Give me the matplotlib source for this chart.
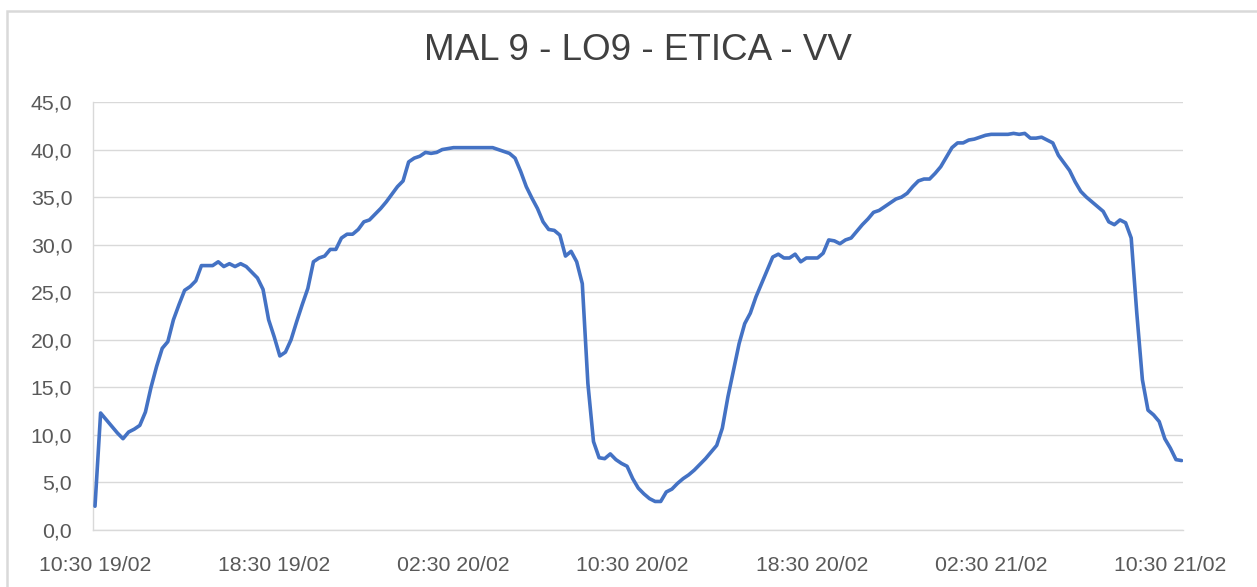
import matplotlib
matplotlib.use("Agg")
import matplotlib.pyplot as plt
from matplotlib.patches import Rectangle
import numpy as np

title = "MAL 9 - LO9 - ETICA - VV"
tick_labels = ["10:30 19/02", "18:30 19/02", "02:30 20/02", "10:30 20/02",
               "18:30 20/02", "02:30 21/02", "10:30 21/02"]
values = [
    2.5, 12.3, 11.6, 10.9, 10.2, 9.6, 10.3, 10.6, 11.0, 12.4,
    15.0, 17.2, 19.1, 19.8, 22.1, 23.7, 25.2, 25.6, 26.2, 27.8,
    27.8, 27.8, 28.2, 27.7, 28.0, 27.7, 28.0, 27.7, 27.1, 26.5,
    25.3, 22.1, 20.3, 18.3, 18.7, 20.0, 21.9, 23.7, 25.4, 28.2,
    28.6, 28.8, 29.5, 29.5, 30.7, 31.1, 31.1, 31.6, 32.4, 32.6,
    33.2, 33.8, 34.5, 35.3, 36.1, 36.7, 38.7, 39.1, 39.3, 39.7,
    39.6, 39.7, 40.0, 40.1, 40.2, 40.2, 40.2, 40.2, 40.2, 40.2,
    40.2, 40.2, 40.0, 39.8, 39.6, 39.1, 37.7, 36.1, 34.9, 33.8,
    32.4, 31.6, 31.5, 31.0, 28.8, 29.3, 28.2, 25.9, 15.4, 9.3,
    7.6, 7.5, 8.0, 7.4, 7.0, 6.7, 5.4, 4.4, 3.8, 3.3,
    3.0, 3.0, 4.0, 4.3, 4.9, 5.4, 5.8, 6.3, 6.9, 7.5,
    8.2, 8.9, 10.7, 14.0, 16.8, 19.6, 21.7, 22.8, 24.5, 25.9,
    27.3, 28.7, 29.0, 28.6, 28.6, 29.0, 28.2, 28.6, 28.6, 28.6,
    29.1, 30.5, 30.4, 30.1, 30.5, 30.7, 31.4, 32.1, 32.7, 33.4,
    33.6, 34.0, 34.4, 34.8, 35.0, 35.4, 36.1, 36.7, 36.9, 36.9,
    37.5, 38.2, 39.2, 40.2, 40.7, 40.7, 41.0, 41.1, 41.3, 41.5,
    41.6, 41.6, 41.6, 41.6, 41.7, 41.6, 41.7, 41.2, 41.2, 41.3,
    41.0, 40.7, 39.4, 38.6, 37.8, 36.6, 35.6, 35.0, 34.5, 34.0,
    33.5, 32.4, 32.1, 32.6, 32.3, 30.7, 22.8, 15.8, 12.6, 12.1,
    11.4, 9.6, 8.6, 7.4, 7.3,
]
points_per_label = 32

W, H = 1257, 587
fig = plt.figure(figsize=(W / 100, H / 100), dpi=100)
fig.patch.set_facecolor("white")

# chart frame (Excel chart area border)
fig.patches.append(Rectangle((7 / W, -0.1), 1.2, 1 - 11 / H + 0.1,
                             transform=fig.transFigure, fill=False,
                             edgecolor="#D9D9D9", linewidth=1.8, zorder=0))

left, right = 93 / W, 1183 / W
bottom, top = 1 - 530 / H, 1 - 102 / H
ax = fig.add_axes([left, bottom, right - left, top - bottom])

x = np.arange(len(values))
ax.plot(x, values, color="#4472C4", linewidth=2.6, solid_joinstyle="round",
        solid_capstyle="round", zorder=3)

n = len(values)
ax.set_xlim(-2 / 5.6, (n - 1) + 1.4 / 5.6)
ax.set_ylim(0, 45)

ax.set_yticks(np.arange(0, 46, 5))
ax.set_yticklabels([f"{v:.1f}".replace(".", ",") for v in np.arange(0, 46, 5)])
ax.set_xticks(np.arange(0, n, points_per_label)[:len(tick_labels)])
ax.set_xticklabels(tick_labels)

ax.grid(axis="y", color="#D9D9D9", linewidth=1.0)
ax.set_axisbelow(True)
for s in ["top", "right"]:
    ax.spines[s].set_visible(False)
ax.spines["left"].set_color("#D9D9D9")
ax.spines["bottom"].set_color("#D9D9D9")
ax.spines["left"].set_linewidth(1.0)
ax.spines["bottom"].set_linewidth(1.0)

ax.tick_params(axis="both", length=0, labelcolor="#595959")
ax.tick_params(axis="y", pad=15)
ax.tick_params(axis="x", pad=19)
for lab in ax.get_yticklabels() + ax.get_xticklabels():
    lab.set_fontfamily("Liberation Sans")
    lab.set_fontsize(15.3)

fig.text(638 / W, 1 - 50 / H, title, ha="center", va="center",
         fontsize=26.5, color="#404040", family="Liberation Sans")

fig.savefig("out.png", dpi=100, facecolor="white")
